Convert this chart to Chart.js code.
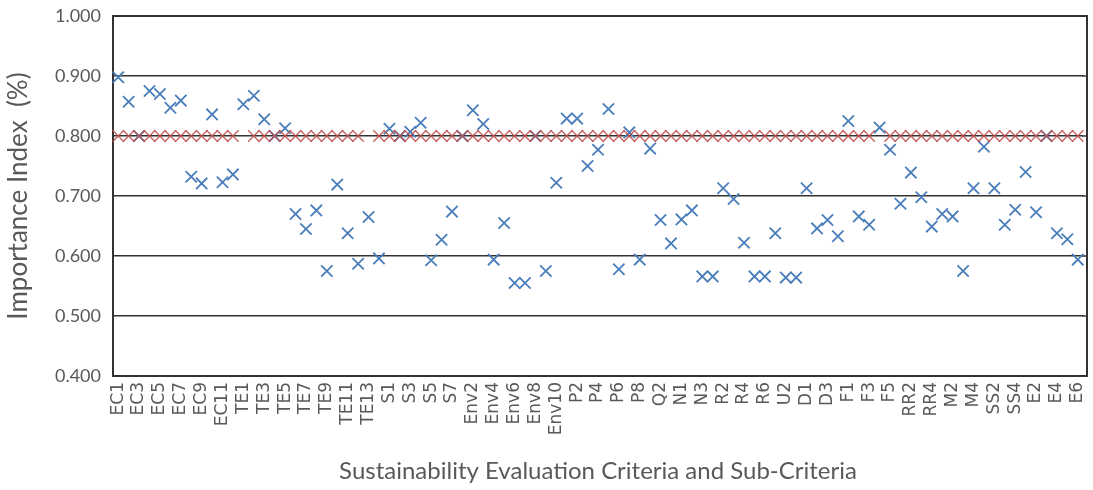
<!DOCTYPE html>
<html>
<head>
<meta charset="utf-8">
<script src="https://cdn.jsdelivr.net/npm/chart.js@4/dist/chart.umd.min.js"></script>
<style>
  html, body { margin: 0; padding: 0; background: #ffffff; }
  #wrap { width: 1093px; height: 490px; position: relative; }
</style>
</head>
<body>
<div id="wrap"><canvas id="c" width="1093" height="490"></canvas></div>
<script>
// ---- data ----
const categories = [
  'EC1','EC2','EC3','EC4','EC5','EC6','EC7','EC8','EC9','EC10','EC11','EC12',
  'TE1','TE2','TE3','TE4','TE5','TE6','TE7','TE8','TE9','TE10','TE11','TE12','TE13','TE14',
  'S1','S2','S3','S4','S5','S6','S7',
  'Env1','Env2','Env3','Env4','Env5','Env6','Env7','Env8','Env9','Env10',
  'P1','P2','P3','P4','P5','P6','P7','P8',
  'Q1','Q2','Q3',
  'N1','N2','N3',
  'R1','R2','R3','R4','R5','R6',
  'U1','U2','U3',
  'D1','D2','D3','D4',
  'F1','F2','F3','F4','F5',
  'RR1','RR2','RR3','RR4',
  'M1','M2','M3','M4',
  'SS1','SS2','SS3','SS4',
  'E1','E2','E3','E4','E5','E6'
];

const importanceIndex = [
  0.898,0.857,0.800,0.875,0.870,0.847,0.859,0.732,0.721,0.836,0.723,0.736,
  0.853,0.867,0.828,0.800,0.813,0.670,0.645,0.676,0.575,0.719,0.638,0.587,0.665,0.596,
  0.812,0.800,0.807,0.822,0.593,0.627,0.674,
  0.800,0.843,0.820,0.594,0.655,0.555,0.555,0.800,0.575,0.722,
  0.829,0.829,0.750,0.777,0.845,0.578,0.806,0.594,
  0.779,0.660,0.621,
  0.661,0.676,0.566,
  0.566,0.713,0.695,0.622,0.566,0.566,
  0.638,0.564,0.564,
  0.713,0.646,0.660,0.633,
  0.825,0.666,0.652,0.814,0.777,
  0.687,0.739,0.698,0.649,
  0.670,0.666,0.575,0.713,
  0.782,0.713,0.652,0.677,
  0.740,0.673,0.800,0.638,0.628,0.594
];

const thresholdValue = 0.800;
const thresholdGaps = [12, 24, 73];   // categories where the threshold marker is absent
const threshold = categories.map((c, i) => thresholdGaps.includes(i) ? null : thresholdValue);

const yTicks = [0.4, 0.5, 0.6, 0.7, 0.8, 0.9, 1.0];

const yTitle = 'Importance Index  (%)';
const xTitle = 'Sustainability Evaluation Criteria and Sub-Criteria';

// ---- plugin: plot frame and gridline extension ----
const EXTRA_RIGHT = 4;
const framePlugin = {
  id: 'frame',
  beforeDatasetsDraw(chart) {
    const {ctx, chartArea: a, scales} = chart;
    ctx.save();
    ctx.strokeStyle = '#333333';
    ctx.lineWidth = 1.5;
    yTicks.forEach(v => {
      const y = scales.y.getPixelForValue(v);
      ctx.beginPath();
      ctx.moveTo(a.right - 1, y);
      ctx.lineTo(a.right + EXTRA_RIGHT, y);
      ctx.stroke();
    });
    ctx.lineWidth = 2;
    ctx.strokeRect(a.left, a.top, a.right + EXTRA_RIGHT - a.left, a.bottom - a.top);
    ctx.restore();
  }
};

const textGrey = '#595959';

new Chart(document.getElementById('c'), {
  type: 'line',
  data: {
    labels: categories,
    datasets: [
      {
        label: 'Importance Index',
        data: importanceIndex,
        showLine: false,
        pointStyle: 'crossRot',
        pointRadius: 8,
        pointBorderWidth: 1.8,
        pointBorderColor: '#4A7EBB',
        pointBackgroundColor: '#4A7EBB',
        borderColor: '#4A7EBB',
        order: 2
      },
      {
        label: 'Threshold',
        data: threshold,
        showLine: false,
        pointStyle: 'crossRot',
        pointRadius: 8,
        pointBorderWidth: 1.5,
        pointBorderColor: 'rgba(192,80,77,0.85)',
        pointBackgroundColor: 'rgba(192,80,77,0.85)',
        borderColor: 'rgba(192,80,77,0.85)',
        order: 1
      }
    ]
  },
  options: {
    responsive: false,
    animation: false,
    events: [],
    layout: { padding: { top: 16, right: 10, bottom: 0, left: 0 } },
    plugins: {
      legend: { display: false },
      tooltip: { enabled: false }
    },
    scales: {
      x: {
        type: 'category',
        offset: true,
        grid: { display: false, drawTicks: false },
        border: { display: false },
        ticks: {
          autoSkip: false,
          maxRotation: 90,
          minRotation: 90,
          padding: 6,
          color: textGrey,
          font: { family: 'DejaVu Sans', size: 17 },
          callback: function (val, idx) { return idx % 2 === 0 ? categories[idx] : ''; }
        },
        title: {
          display: true,
          text: xTitle,
          color: textGrey,
          font: { family: 'Lato', size: 24 },
          padding: { top: 0, bottom: 4 }
        },
        afterFit(scale) {
          scale.height = 114;
          scale.paddingLeft = 0;
          scale.paddingRight = 0;
        }
      },
      y: {
        min: 0.4,
        max: 1.0,
        grid: { color: '#333333', lineWidth: 1.5, drawTicks: false },
        border: { display: false },
        afterBuildTicks(scale) { scale.ticks = yTicks.map(v => ({ value: v })); },
        ticks: {
          padding: 12,
          color: textGrey,
          font: { family: 'Lato', size: 18 },
          callback: v => Number(v).toFixed(3)
        },
        title: {
          display: true,
          text: yTitle,
          color: textGrey,
          font: { family: 'Lato', size: 26 },
          padding: { top: 3, bottom: 0 }
        },
        afterFit(scale) {
          scale.width = 113;
          scale.paddingTop = 0;
          scale.paddingBottom = 0;
        }
      }
    }
  },
  plugins: [framePlugin]
});
</script>
</body>
</html>
